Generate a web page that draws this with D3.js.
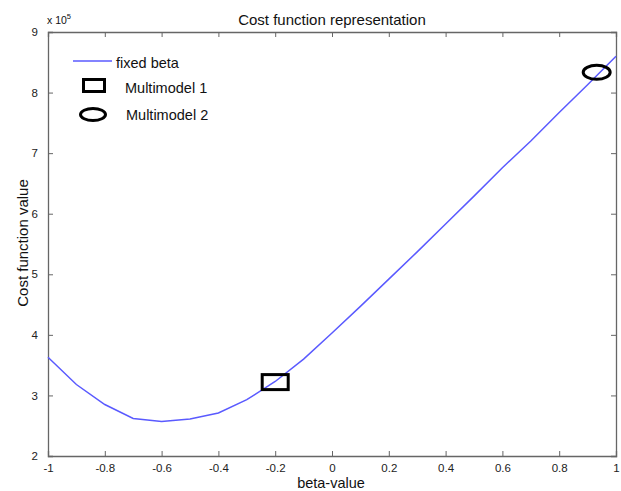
<!DOCTYPE html>
<html>
<head>
<meta charset="utf-8">
<script src="https://cdn.jsdelivr.net/npm/d3@7/dist/d3.min.js"></script>
<style>
  body { margin: 0; background: #fff; }
  text { font-family: "Liberation Sans", Arial, sans-serif; }
</style>
</head>
<body>
<svg width="621" height="491"></svg>
<script>
// beta values and cost (x 10^5)
var beta = [-1, -0.9, -0.8, -0.7, -0.6, -0.5, -0.4, -0.3, -0.2, -0.1, 0, 0.1, 0.2, 0.3, 0.4, 0.5, 0.6, 0.7, 0.8, 0.9, 1];
var cost = [3.63, 3.18, 2.85, 2.62, 2.57, 2.61, 2.71, 2.93, 3.23, 3.60, 4.03, 4.47, 4.92, 5.37, 5.83, 6.29, 6.76, 7.20, 7.67, 8.13, 8.60];
var mm1 = [-0.2, 3.22];   // Multimodel 1 (square)
var mm2 = [0.932, 8.335]; // Multimodel 2 (ellipse)
var xTicks = [-1, -0.8, -0.6, -0.4, -0.2, 0, 0.2, 0.4, 0.6, 0.8, 1];
var yTicks = [2, 3, 4, 5, 6, 7, 8, 9];
var legendNames = ["fixed beta", "Multimodel 1", "Multimodel 2"];

var svg = d3.select("svg"),
    pl = 48, pr = 616, pt = 32, pb = 456,
    axisCol = "#666";

var x = d3.scaleLinear().domain([-1, 1]).range([pl, pr]);
var y = d3.scaleLinear().domain([2, 9]).range([pb, pt]);

// axes (ticks inward, like matlab)
var fmt = function (d) { return String(d); };
svg.append("g").attr("transform", "translate(0," + pb + ")")
  .call(d3.axisBottom(x).tickValues(xTicks).tickSize(-5).tickPadding(8).tickFormat(fmt));
svg.append("g").attr("transform", "translate(0," + pt + ")")
  .call(d3.axisTop(x).tickValues(xTicks).tickSize(-5).tickFormat(""));
svg.append("g").attr("transform", "translate(" + pl + ",0)")
  .call(d3.axisLeft(y).tickValues(yTicks).tickSize(-5).tickPadding(10).tickFormat(fmt));
svg.append("g").attr("transform", "translate(" + pr + ",0)")
  .call(d3.axisRight(y).tickValues(yTicks).tickSize(-5).tickFormat(""));

svg.selectAll(".domain").attr("stroke", axisCol).attr("stroke-width", 1.3);
svg.selectAll(".tick line").attr("stroke", axisCol);
svg.selectAll(".tick text").attr("font-size", 11.5).attr("fill", "#222")
  .attr("font-family", "Liberation Sans, Arial, sans-serif");

// curve
var line = d3.line().x(function (d, i) { return x(beta[i]); }).y(function (d) { return y(d); });
svg.append("path").datum(cost)
  .attr("d", line)
  .attr("fill", "none")
  .attr("stroke", "#5a5aff")
  .attr("stroke-width", 1.5);

// markers
svg.append("rect")
  .attr("x", x(mm1[0]) - 13).attr("y", y(mm1[1]) - 7.5)
  .attr("width", 26).attr("height", 15)
  .attr("fill", "none").attr("stroke", "#000").attr("stroke-width", 3);
svg.append("ellipse")
  .attr("cx", x(mm2[0])).attr("cy", y(mm2[1]))
  .attr("rx", 13.5).attr("ry", 7)
  .attr("fill", "none").attr("stroke", "#000").attr("stroke-width", 3);

// legend
svg.append("line").attr("x1", 73).attr("x2", 112).attr("y1", 61).attr("y2", 61)
  .attr("stroke", "#5a5aff").attr("stroke-width", 1.5);
svg.append("rect").attr("x", 83.5).attr("y", 79.5).attr("width", 21).attr("height", 12)
  .attr("fill", "none").attr("stroke", "#000").attr("stroke-width", 3);
svg.append("ellipse").attr("cx", 93).attr("cy", 114.5).attr("rx", 12.5).attr("ry", 6)
  .attr("fill", "none").attr("stroke", "#000").attr("stroke-width", 3);
var lx = [116, 125, 126], ly = [68, 93, 120];
legendNames.forEach(function (n, i) {
  svg.append("text").attr("x", lx[i]).attr("y", ly[i]).attr("font-size", 14.5).attr("fill", "#111").text(n);
});

// titles
svg.append("text").attr("x", 332).attr("y", 25).attr("text-anchor", "middle")
  .attr("font-size", 15).attr("fill", "#111").text("Cost function representation");
svg.append("text").attr("x", 331).attr("y", 488).attr("text-anchor", "middle")
  .attr("font-size", 14.5).attr("fill", "#111").text("beta-value");
svg.append("text").attr("transform", "translate(28,243) rotate(-90)").attr("text-anchor", "middle")
  .attr("font-size", 15).attr("fill", "#111").text("Cost function value");

// exponent label
var ex = svg.append("text").attr("x", 47).attr("y", 24).attr("font-size", 10.5).attr("fill", "#111");
ex.append("tspan").text("x 10");
ex.append("tspan").attr("dy", -5).attr("font-size", 7.5).text("5");
</script>
</body>
</html>
